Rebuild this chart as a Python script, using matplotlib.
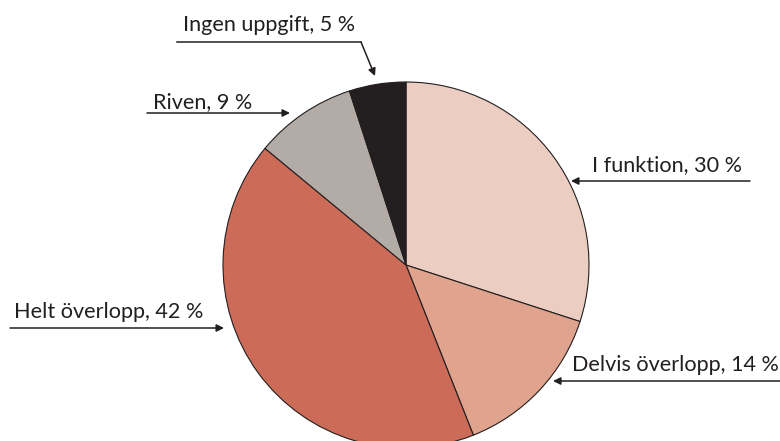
import matplotlib.pyplot as plt

# Andelar per kategori (medurs från kl. 12)
kategorier = ['I funktion', 'Delvis överlopp', 'Helt överlopp', 'Riven', 'Ingen uppgift']
andelar = [30, 14, 42, 9, 5]
farger = ['#ebcdc1', '#e0a38e', '#cb6b58', '#b3aba5', '#231f20']

H = 441
fig = plt.figure(figsize=(7.8, 4.41), dpi=100)
ax = fig.add_axes([0, 0, 1, 1])

cx, cy, r = 406, H - 265, 183
ax.pie(andelar, colors=farger, startangle=90, counterclock=False,
       center=(cx, cy), radius=r, frame=True,
       wedgeprops=dict(edgecolor='#231f20', linewidth=0.8))
ax.set_xlim(0, 780)
ax.set_ylim(0, H)
ax.set_aspect('equal')
ax.axis('off')

textfarg = '#231f20'
plt.rcParams['font.family'] = ['Lato', 'DejaVu Sans']
fs = 15.6

# (text x, text y, linje y, linje start x, pil mål)
etiketter = [
    (592, 165, 181, 750, (571, 181)),
    (572, 365, 381, 780, (553, 381)),
    (14, 312, 328, 10, (224, 328)),
    (153, 102, 113, 147, (290, 113)),
]
pilstil = dict(arrowstyle='-|>', color=textfarg, lw=1.1, mutation_scale=11,
               shrinkA=0, shrinkB=0)

for (tx, ty, ly, x0, mal), kat, v in zip(etiketter, kategorier[:4], andelar[:4]):
    ax.text(tx, H - ty, f'{kat}, {v} %', fontsize=fs, color=textfarg,
            ha='left', va='center')
    ax.annotate('', xy=(mal[0], H - mal[1]), xytext=(x0, H - ly), arrowprops=pilstil)

# Ingen uppgift: understruken text med sned pil
ax.text(183, H - 25, f'{kategorier[4]}, {andelar[4]} %', fontsize=fs,
        color=textfarg, ha='left', va='center')
ax.plot([177, 361], [H - 42, H - 42], color=textfarg, lw=1.1)
ax.annotate('', xy=(375, H - 76), xytext=(361, H - 42), arrowprops=pilstil)

fig.savefig('out.png', dpi=100)
